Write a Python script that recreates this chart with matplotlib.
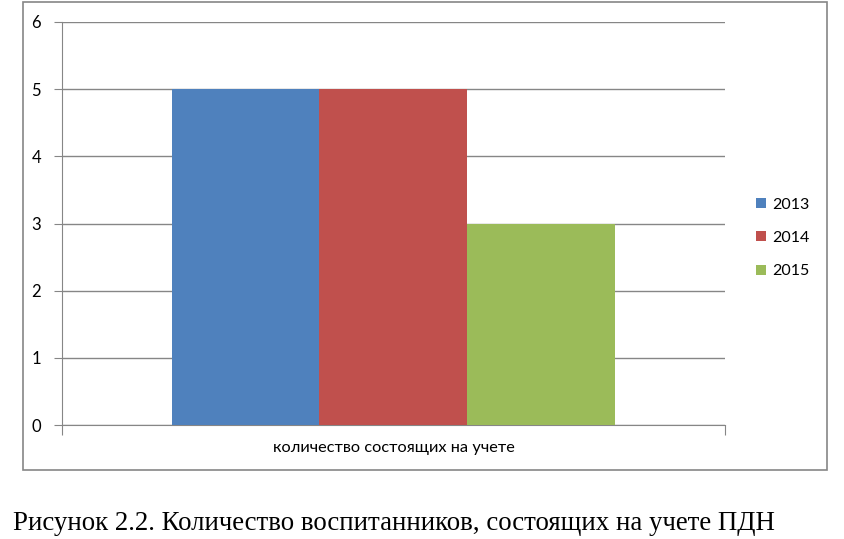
import matplotlib
matplotlib.use("Agg")
import matplotlib.pyplot as plt
from matplotlib.patches import Rectangle, Patch

category = "количество состоящих на учете"
years = ["2013", "2014", "2015"]
values = [5, 5, 3]
colors = ["#4F81BD", "#C0504D", "#9BBB59"]
yticks = [0, 1, 2, 3, 4, 5, 6]
caption = "Рисунок 2.2. Количество воспитанников, состоящих на учете ПДН"

W, H = 845, 539
fig = plt.figure(figsize=(W / 100, H / 100), dpi=100)
plt.rcParams['font.family'] = ['Lato', 'DejaVu Sans']

# outer chart frame
fig.patches.append(Rectangle((23 / W, 1 - 470 / H), (827 - 23) / W, (470 - 2) / H,
                             transform=fig.transFigure, fill=False,
                             edgecolor="#868686", linewidth=1.2))

ax = fig.add_axes([62 / W, 1 - 425 / H, (725 - 62) / W, (425 - 22) / H])
width = 148 / 663
offsets = [-0.2225, 0.0, 0.2225]
for off, v, c, y in zip(offsets, values, colors, years):
    ax.bar(off, v, width=width, color=c, label=y, zorder=3)

ax.set_xlim(-0.5, 0.5)
ax.set_ylim(0, 6)
ax.set_yticks(yticks)
ax.set_yticklabels([str(t) for t in yticks], fontsize=12)
ax.yaxis.grid(True, color="#868686", linewidth=1, zorder=0)
ax.set_xticks([-0.5, 0.5])
ax.set_xticklabels(["", ""])
ax.tick_params(axis="y", length=6, color="#868686", pad=9)
ax.tick_params(axis="x", length=7, color="#868686")
for s in ["top", "right"]:
    ax.spines[s].set_visible(False)
for s in ["left", "bottom"]:
    ax.spines[s].set_color("#868686")
ax.set_axisbelow(True)

fig.text(393.5 / W, 1 - 448 / H, category, ha="center", va="center", fontsize=11.8)

handles = [Patch(facecolor=c, label=y) for c, y in zip(colors, years)]
fig.legend(handles=handles, loc="center left", bbox_to_anchor=(742 / W, 1 - 238 / H),
           frameon=False, fontsize=11.5, handlelength=0.6, handleheight=0.6,
           handletextpad=0.4, labelspacing=1.22)

fig.text(13 / W, 1 - 523 / H, caption, ha="left", va="center", fontsize=19.4,
         family=["Liberation Serif", "DejaVu Serif"])

fig.savefig("out.png", dpi=100)
